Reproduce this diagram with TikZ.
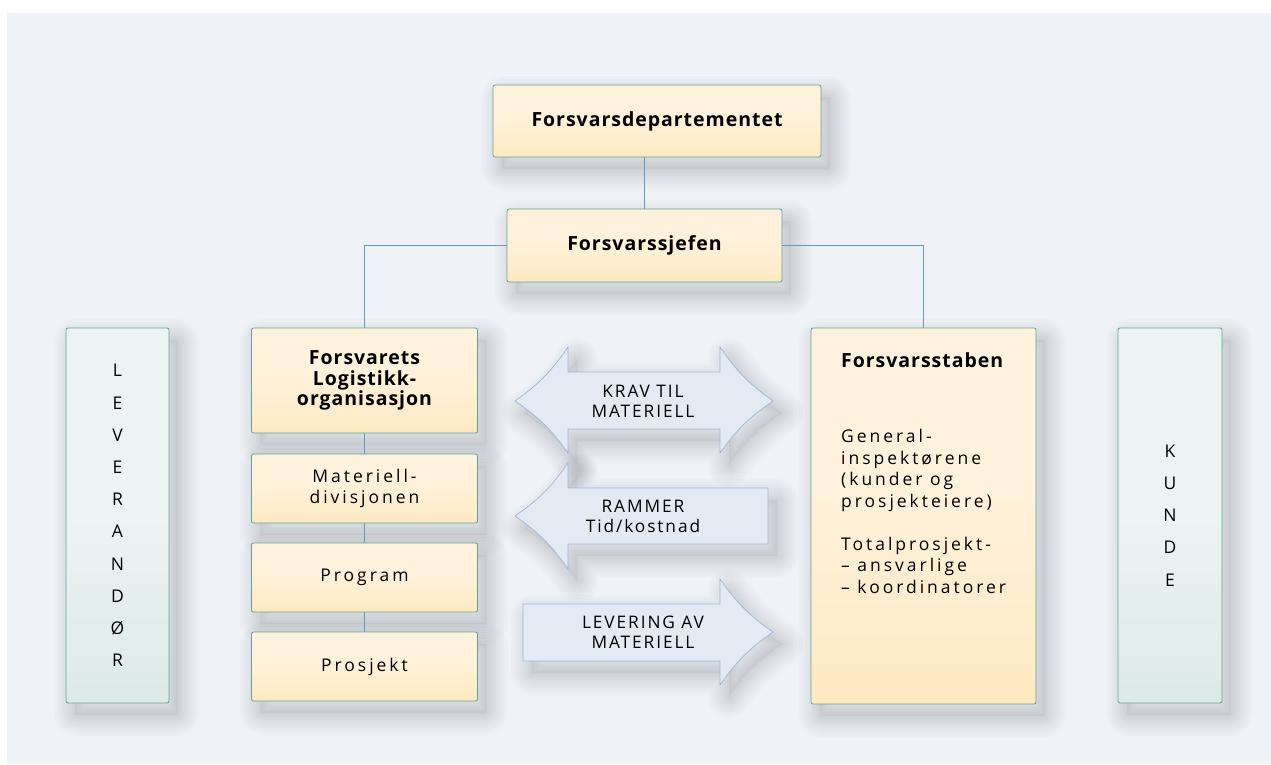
\documentclass[tikz,border=0pt]{standalone}
\usepackage{fontspec}
\setmainfont{Open Sans}
\usetikzlibrary{shadows}
\definecolor{panel}{HTML}{EFF3F8}
\definecolor{orT}{HTML}{FFF2DC}
\definecolor{orM}{HTML}{FEEBC6}
\definecolor{orB}{HTML}{FDD993}
\definecolor{grT}{HTML}{EBF4F2}
\definecolor{grB}{HTML}{CDE0DC}
\definecolor{edge}{HTML}{5FA494}
\definecolor{conn}{HTML}{6A97B8}
\definecolor{arrF}{HTML}{E4EAF4}
\definecolor{arrE}{HTML}{9DB6D8}
\newfontfamily\regf[LetterSpace=17]{Open Sans}
\newfontfamily\boldf[LetterSpace=5]{Open Sans Bold}
\newfontfamily\arrf[LetterSpace=11]{Open Sans}
\pgfdeclareverticalshading{orshade}{100bp}{color(0bp)=(orB); color(30bp)=(orM); color(55bp)=(orT); color(100bp)=(orT)}
\pgfdeclareverticalshading{grshade}{100bp}{color(0bp)=(grB); color(50bp)=(grT); color(100bp)=(grT)}
\tikzset{
  sh/.style={general shadow={draw=black,fill=none,line width=#1,line join=round,opacity=0.017,shadow xshift=9pt,shadow yshift=-12pt}},
  softshadow/.style={
    general shadow={fill=black,opacity=0.03,shadow xshift=9pt,shadow yshift=-12pt},
    sh=4pt, sh=9pt, sh=14pt, sh=19pt, sh=24pt, sh=30pt, sh=36pt, sh=42pt},
  orbox/.style={softshadow,draw=edge,line width=0.8pt,rounded corners=2pt,shading=orshade,
    inner sep=0pt,align=center,font=\regf\fontsize{17.5}{20.5}\selectfont},
  grbox/.style={softshadow,draw=edge,line width=0.8pt,rounded corners=2pt,shading=grshade,
    inner sep=0pt,align=center,font=\regf\fontsize{17.5}{32.2}\selectfont},
  arrowshape/.style={softshadow,draw=arrE,line width=0.7pt,fill=arrF},
  arrtext/.style={align=center,font=\arrf\fontsize{17.3}{19.5}\selectfont},
  link/.style={draw=conn,line width=0.8pt},
}
\begin{document}
\begin{tikzpicture}[x=1pt,y=-1pt]
\useasboundingbox (0,0) rectangle (1271,764);
\fill[white] (0,0) rectangle (1271,764);
\fill[panel] (7,13) rectangle (1271,764);

% arrows
\path[arrowshape] (515,401) to[bend right=10] (568,347) -- (568,372) -- (720,372) -- (720,347)
  to[bend right=10] (773,401) to[bend right=10] (720,453) -- (720,429) -- (568,429) -- (568,453) to[bend right=10] cycle;
\node[arrtext] (krav) at (643,401.5) {KRAV TIL\\MATERIELL};
\path[arrowshape] (515,516) to[bend right=10] (568,463) -- (568,488) -- (768,488) -- (768,544) -- (568,544) -- (568,569) to[bend right=10] cycle;
\node[arrtext] (rammer) at (643,516.5) {RAMMER\\Tid/kostnad};
\path[arrowshape] (523,604) -- (720,604) -- (720,579) to[bend right=10] (773,632) to[bend right=10] (720,685) -- (720,661) -- (523,661) -- cycle;
\node[arrtext] (lev) at (643,632) {LEVERING AV\\MATERIELL};

% boxes
\node[orbox,minimum width=328pt,minimum height=72pt,font=\boldf\fontsize{19.5}{20.5}\selectfont] (dep) at (657,121) {Forsvarsdepartementet};
\node[orbox,minimum width=275pt,minimum height=73pt,font=\boldf\fontsize{19.5}{20.5}\selectfont] (sjef) at (644.5,245.5) {Forsvarssjefen};
\draw[link] (sjef.north) -- (sjef.north |- dep.south);
\node[orbox,minimum width=226pt,minimum height=105pt,font=\boldf\fontsize{19.5}{20.5}\selectfont] (flo) at (364.5,380.5) {Forsvarets\\Logistikk-\\organisasjon};
\node[orbox,minimum width=225pt,minimum height=376pt] (stab) at (923.5,516) {};
\draw[link] (sjef.west) -| (flo.north);
\draw[link] (sjef.east) -| (stab.north);
\node[orbox,minimum width=226pt,minimum height=69pt] (mat) at (364.5,488.5) {Materiell-\\divisjonen};
\node[orbox,minimum width=226pt,minimum height=69pt] (prog) at (364.5,577.5) {Program};
\node[orbox,minimum width=226pt,minimum height=69pt] (pros) at (364.5,666.5) {Prosjekt};
\draw[link] (flo.south) -- (mat.north);
\draw[link] (mat.south) -- (prog.north);
\draw[link] (prog.south) -- (pros.north);

\node[anchor=west,inner sep=0pt,font=\boldf\fontsize{19.5}{20.5}\selectfont] (stabt) at (841,360) {Forsvarsstaben};
\node[anchor=north west,align=left,inner sep=0pt,font=\regf\fontsize{17.5}{21.5}\selectfont] (stabx) at (841,429)
  {General-\\inspektørene\\(kunder og\\prosjekteiere)\\[21.5pt]Totalprosjekt-\\– ansvarlige\\– koordinatorer};

\node[grbox,minimum width=103pt,minimum height=375pt] (levb) at (117.5,515.5) {L\\E\\V\\E\\R\\A\\N\\D\\Ø\\R};
\node[grbox,minimum width=104pt,minimum height=375pt] (kunde) at (1170,515.5) {K\\U\\N\\D\\E};
\end{tikzpicture}
\end{document}
